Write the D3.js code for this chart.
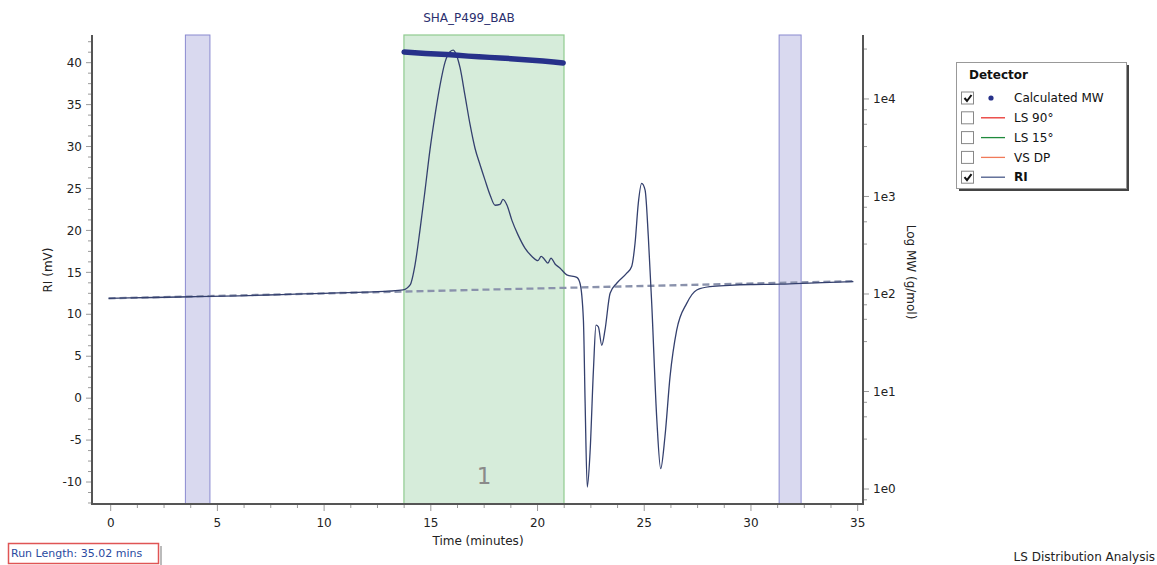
<!DOCTYPE html>
<html>
<head>
<meta charset="utf-8">
<script src="https://cdn.jsdelivr.net/npm/d3@7"></script>
<style>
body{margin:0;background:#fff;}
text{font-family:"DejaVu Sans",Verdana,sans-serif;}
</style>
</head>
<body>
<svg id="chart" width="1157" height="565"></svg>
<script>
// ---------- data ----------
const chartTitle = "SHA_P499_BAB";
const riTime = [-0.1, 2, 4, 6, 8, 10, 12, 13.0, 13.7, 14.03, 14.26, 14.49, 14.73, 14.96, 15.20, 15.43, 15.67, 15.90, 16.05, 16.13, 16.37, 16.60, 16.84, 17.07, 17.31, 17.54, 17.78, 18.01, 18.24, 18.38, 18.57, 18.80, 19.08, 19.41, 19.74, 20.02, 20.17, 20.31, 20.49, 20.63, 20.82, 21.06, 21.37, 21.84, 21.99, 22.15, 22.23, 22.33, 22.46, 22.62, 22.74, 22.85, 23.01, 23.16, 23.40, 23.71, 24.18, 24.41, 24.57, 24.72, 24.88, 25.04, 25.19, 25.35, 25.59, 25.77, 25.97, 26.21, 26.52, 26.99, 27.46, 28.08, 29, 30, 31.4, 33, 34.8];
const riValue = [11.9, 12.0, 12.1, 12.2, 12.35, 12.5, 12.65, 12.75, 12.9, 13.5, 15.9, 20.0, 24.8, 29.6, 33.8, 37.3, 40.1, 41.3, 41.5, 41.3, 39.4, 36.1, 32.6, 29.8, 27.8, 26.0, 24.2, 23.0, 23.1, 23.7, 23.0, 21.2, 19.5, 17.9, 16.9, 16.4, 16.9, 16.6, 16.1, 16.7, 16.0, 15.5, 14.7, 14.4, 13.7, 9.3, -0.6, -10.6, -6.5, 3.4, 8.7, 8.5, 6.3, 8.1, 12.5, 13.7, 14.9, 15.7, 18.5, 23.2, 25.6, 24.8, 19.3, 11.3, -2.6, -8.4, -4.6, 2.6, 8.1, 11.3, 12.9, 13.3, 13.45, 13.55, 13.6, 13.75, 13.9];
const baseTime = [-0.1, 34.8];
const baseValue = [11.9, 13.95];
const mwTime = [13.75, 14.25, 14.75, 15.25, 15.75, 16.25, 16.75, 17.25, 17.75, 18.25, 18.75, 19.25, 19.75, 20.25, 20.75, 21.2];
const mwValue = [30300, 29800, 29300, 28900, 28500, 28000, 27500, 27100, 26700, 26300, 25900, 25400, 25000, 24500, 24000, 23400];
const bandStart = [3.5, 31.32];
const bandEnd = [4.65, 32.35];
const peakStart = 13.74, peakEnd = 21.24, peakLabel = "1";
const xTicks = [0, 5, 10, 15, 20, 25, 30, 35];
const yTicks = [-10, -5, 0, 5, 10, 15, 20, 25, 30, 35, 40];
const logTicks = [1, 10, 100, 1000, 10000];
const logTickLabels = ["1e0", "1e1", "1e2", "1e3", "1e4"];
const legendLabels = ["Calculated MW", "LS 90°", "LS 15°", "VS DP", "RI"];
const legendColors = ["#27318a", "#e8332f", "#1f8a3c", "#f07a5a", "#4a5a8a"];
const legendChecked = [true, false, false, false, true];

// ---------- layout ----------
const svg = d3.select("#chart");
const L = 92, R = 863, T = 35, B = 504;
const x = d3.scaleLinear().domain([-0.876, 35.25]).range([L, R]);
const y = d3.scaleLinear().domain([-12.62, 43.3]).range([B, T]);
const yLog = d3.scaleLog().domain([0.702, 45290]).range([B, T]);

svg.append("rect").attr("width", 1157).attr("height", 565).attr("fill", "#fff");

// bands
bandStart.forEach((s, i) => {
  svg.append("rect").attr("x", x(s)).attr("y", T).attr("width", x(bandEnd[i]) - x(s)).attr("height", B - T)
    .attr("fill", "#d9d9ef").attr("stroke", "#8a8ad0").attr("stroke-width", 1);
});
svg.append("rect").attr("x", x(peakStart)).attr("y", T).attr("width", x(peakEnd) - x(peakStart)).attr("height", B - T)
  .attr("fill", "#d6ecda").attr("stroke", "#8fcb8f").attr("stroke-width", 1.2);
svg.append("text").attr("x", x((peakStart + peakEnd) / 2)).attr("y", 484).attr("text-anchor", "middle")
  .attr("font-size", 23).attr("fill", "#8a8a8a").text(peakLabel);

// lines
const baseData = baseTime.map((t, i) => [t, baseValue[i]]);
svg.append("path").datum(baseData)
  .attr("d", d3.line().x(d => x(d[0])).y(d => y(d[1])))
  .attr("fill", "none").attr("stroke", "#8a92ac").attr("stroke-width", 2.3).attr("stroke-dasharray", "7,4");

const riData = riTime.map((t, i) => [t, riValue[i]]);
svg.append("path").datum(riData)
  .attr("d", d3.line().curve(d3.curveMonotoneX).x(d => x(d[0])).y(d => y(d[1])))
  .attr("fill", "none").attr("stroke", "#34406e").attr("stroke-width", 1.3);

const mwData = mwTime.map((t, i) => [t, mwValue[i]]);
svg.append("path").datum(mwData)
  .attr("d", d3.line().x(d => x(d[0])).y(d => yLog(d[1])))
  .attr("fill", "none").attr("stroke", "#27318a").attr("stroke-width", 5.5).attr("stroke-linecap", "round");

// axes
const tickCol = "#9a9a9a", axisCol = "#555";
const gx = svg.append("g");
d3.range(0, 35.01, 1.25).forEach(v => {
  const major = Math.abs(v % 5) < 1e-6;
  gx.append("line").attr("x1", x(v)).attr("x2", x(v)).attr("y1", B).attr("y2", B + (major ? 7 : 4))
    .attr("stroke", tickCol).attr("stroke-width", 1);
});
xTicks.forEach(v => {
  gx.append("text").attr("x", x(v)).attr("y", 527).attr("text-anchor", "middle").attr("font-size", 12).attr("fill", "#222").text(v);
});
const gy = svg.append("g");
d3.range(-12.5, 43.3, 1.25).forEach(v => {
  const major = Math.abs(v % 5) < 1e-6;
  gy.append("line").attr("x1", L).attr("x2", L - (major ? 6 : 4)).attr("y1", y(v)).attr("y2", y(v))
    .attr("stroke", tickCol).attr("stroke-width", 1);
});
yTicks.forEach(v => {
  gy.append("text").attr("x", 82).attr("y", y(v)).attr("dy", "0.35em").attr("text-anchor", "end").attr("font-size", 12).attr("fill", "#222").text(v);
});
const gr = svg.append("g");
[0.1, 1, 10, 100, 1000, 10000].forEach(dec => {
  [1, 3.25, 5.5, 7.75].forEach(m => {
    const v = dec * m;
    if (v < yLog.domain()[0] || v > yLog.domain()[1]) return;
    const major = m === 1;
    gr.append("line").attr("x1", R).attr("x2", R + (major ? 6 : 4)).attr("y1", yLog(v)).attr("y2", yLog(v))
      .attr("stroke", tickCol).attr("stroke-width", 1);
  });
});
logTicks.forEach((v, i) => {
  gr.append("text").attr("x", 873).attr("y", yLog(v)).attr("dy", "0.35em").attr("font-size", 12).attr("fill", "#222").text(logTickLabels[i]);
});
svg.append("line").attr("x1", L).attr("x2", L).attr("y1", T).attr("y2", B + 1).attr("stroke", axisCol).attr("stroke-width", 2);
svg.append("line").attr("x1", R).attr("x2", R).attr("y1", T).attr("y2", B + 1).attr("stroke", axisCol).attr("stroke-width", 2);
svg.append("line").attr("x1", L - 1).attr("x2", R + 1).attr("y1", B).attr("y2", B).attr("stroke", axisCol).attr("stroke-width", 2);

// axis titles
svg.append("text").attr("x", 478).attr("y", 545).attr("text-anchor", "middle").attr("font-size", 12).attr("fill", "#222").text("Time (minutes)");
svg.append("text").attr("transform", "translate(52,270) rotate(-90)").attr("text-anchor", "middle").attr("font-size", 12).attr("fill", "#222").text("RI (mV)");
svg.append("text").attr("transform", "translate(907,272) rotate(90)").attr("text-anchor", "middle").attr("font-size", 12).attr("fill", "#222").text("Log MW (g/mol)");
svg.append("text").attr("x", 469).attr("y", 22).attr("text-anchor", "middle").attr("font-size", 12).attr("fill", "#2b2f6e").text(chartTitle);

// legend
const lg = svg.append("g");
lg.append("rect").attr("x", 959).attr("y", 65).attr("width", 170).attr("height", 126).attr("fill", "#444");
lg.append("rect").attr("x", 956.5).attr("y", 62.5).attr("width", 170).attr("height", 126).attr("fill", "#fff").attr("stroke", "#999");
lg.append("text").attr("x", 969).attr("y", 79).attr("font-size", 12).attr("font-weight", "bold").attr("fill", "#111").text("Detector");
legendLabels.forEach((lab, i) => {
  const cy = 98 + i * 19.8;
  lg.append("rect").attr("x", 961.5).attr("y", cy - 6).attr("width", 12).attr("height", 12).attr("fill", "#fff").attr("stroke", "#888");
  if (legendChecked[i]) {
    lg.append("path").attr("d", `M964.5,${cy} L967,${cy + 3} L971.5,${cy - 3}`).attr("fill", "none").attr("stroke", "#111").attr("stroke-width", 2);
  }
  if (i === 0) {
    lg.append("circle").attr("cx", 991).attr("cy", cy).attr("r", 2.6).attr("fill", legendColors[i]);
  } else {
    lg.append("line").attr("x1", 981).attr("x2", 1005).attr("y1", cy).attr("y2", cy).attr("stroke", legendColors[i]).attr("stroke-width", 1.3);
  }
  lg.append("text").attr("x", 1014).attr("y", cy).attr("dy", "0.35em").attr("font-size", 12)
    .attr("font-weight", i === 4 ? "bold" : "normal").attr("fill", "#111").text(lab);
});

// footer
svg.append("line").attr("x1", 161).attr("x2", 161).attr("y1", 546).attr("y2", 565).attr("stroke", "#bbb").attr("stroke-width", 2);
svg.append("rect").attr("x", 8.5).attr("y", 543.5).attr("width", 150).attr("height", 20).attr("fill", "#fff").attr("stroke", "#e05555").attr("stroke-width", 1.5);
svg.append("text").attr("x", 11).attr("y", 553.5).attr("dy", "0.35em").attr("font-size", 11).attr("fill", "#2a4aa0").text("Run Length: 35.02 mins");
svg.append("text").attr("x", 1155).attr("y", 561).attr("text-anchor", "end").attr("font-size", 12).attr("fill", "#222").text("LS Distribution Analysis");
</script>
</body>
</html>
